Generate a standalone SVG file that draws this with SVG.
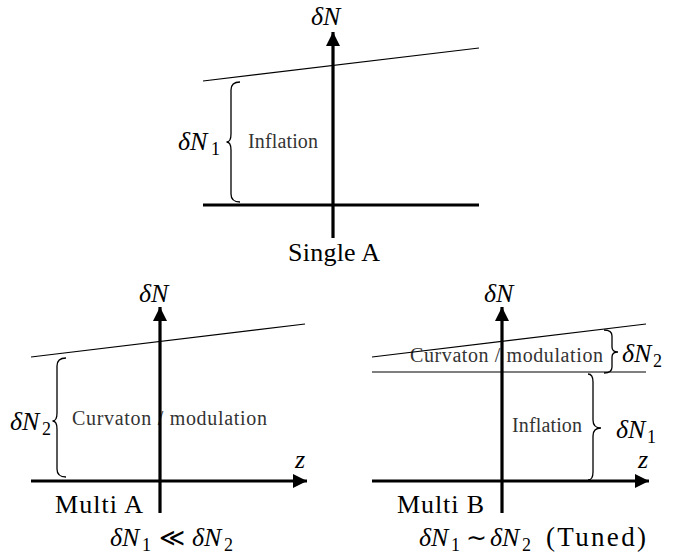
<svg xmlns="http://www.w3.org/2000/svg" width="680" height="554" viewBox="0 0 680 554">
<style>
text{font-family:'Liberation Serif','Times New Roman',serif;fill:#000}
.m{font-style:italic;font-size:26px}
.s{font-style:normal;font-size:18px}
.r{font-style:normal;font-size:25px}
.lbl{font-size:26px}
.reg{font-size:20px;fill:#333}
.thin{stroke:#000;stroke-width:1.2;fill:none}
.thick{stroke:#000;stroke-width:3.2;fill:none}
.brace{stroke:#000;stroke-width:1.3;fill:none}
</style>
<defs>
<marker id="ah" markerUnits="userSpaceOnUse" markerWidth="16" markerHeight="14" refX="14" refY="7" orient="auto">
<path d="M0,0 L14,7 L0,14 Z" fill="#000"/>
</marker>
</defs>

<g id="panel-single-a">
<text x="248" y="148" class="reg" textLength="70">Inflation</text>
<text y="150" class="m"><tspan x="178">δN</tspan><tspan x="211" y="155" class="s">1</tspan></text>
<text x="311" y="25" class="m">δN</text>
<text x="288" y="261" class="lbl" textLength="92">Single A</text>
</g>

<g id="panel-multi-a">
<text x="72" y="425" class="reg" textLength="195">Curvaton / modulation</text>
<text y="430" class="m"><tspan x="10">δN</tspan><tspan x="42" y="435" class="s">2</tspan></text>
<text x="139" y="302" class="m">δN</text>
<text x="295" y="468" class="m">z</text>
<text x="55" y="513" class="lbl" textLength="88">Multi A</text>
<text y="546" class="m"><tspan x="110">δN</tspan><tspan x="142" y="551" class="s">1</tspan><tspan x="159" y="546" class="r">≪</tspan><tspan x="192" y="546">δN</tspan><tspan x="224" y="551" class="s">2</tspan></text>
</g>

<g id="panel-multi-b">
<text x="410" y="362" class="reg" textLength="193">Curvaton / modulation</text>
<text x="512" y="432" class="reg" textLength="70">Inflation</text>
<text y="362" class="m"><tspan x="622">δN</tspan><tspan x="653" y="367" class="s">2</tspan></text>
<text y="438" class="m"><tspan x="616">δN</tspan><tspan x="647" y="443" class="s">1</tspan></text>
<text x="484" y="302" class="m">δN</text>
<text x="638" y="468" class="m">z</text>
<text x="397" y="513" class="lbl" textLength="87">Multi B</text>
<text y="546" class="m"><tspan x="419">δN</tspan><tspan x="451" y="551" class="s">1</tspan><tspan x="466" y="546" class="r">∼</tspan><tspan x="490" y="546">δN</tspan><tspan x="522" y="551" class="s">2</tspan><tspan x="546" y="546" class="r" style="font-size:27px" textLength="100">(Tuned)</tspan></text>
</g>

<g id="connectors">
<line x1="203" y1="81" x2="479" y2="48" class="thin"/>
<line x1="203" y1="205" x2="479" y2="205" class="thick"/>
<line x1="333" y1="238" x2="333" y2="32" class="thick" marker-end="url(#ah)"/>
<path class="brace" d="M240,82 Q231,82 231,90 L231,134 Q231,142 226.5,142 Q231,142 231,150 L231,194 Q231,202 240,202"/>
<line x1="31" y1="357" x2="305" y2="324" class="thin"/>
<line x1="31" y1="481" x2="307" y2="481" class="thick" marker-end="url(#ah)"/>
<line x1="160" y1="513" x2="160" y2="307" class="thick" marker-end="url(#ah)"/>
<path class="brace" d="M66,358 Q57,358 57,366 L57,413 Q57,421 52.5,421 Q57,421 57,429 L57,469 Q57,477 66,477"/>
<line x1="372" y1="357" x2="646" y2="324" class="thin"/>
<line x1="372" y1="372" x2="646" y2="372" class="thin"/>
<line x1="372" y1="481" x2="649" y2="481" class="thick" marker-end="url(#ah)"/>
<line x1="502" y1="513" x2="502" y2="307" class="thick" marker-end="url(#ah)"/>
<path class="brace" d="M604,330 Q612,330 612,336 L612,347 Q612,352 618,352 Q612,352 612,357 L612,367 Q612,373 604,373"/>
<path class="brace" d="M588,374 Q593,374 593,382 L593,420 Q593,428 601,428 Q593,428 593,436 L593,472 Q593,480 588,480"/>
</g>
</svg>
